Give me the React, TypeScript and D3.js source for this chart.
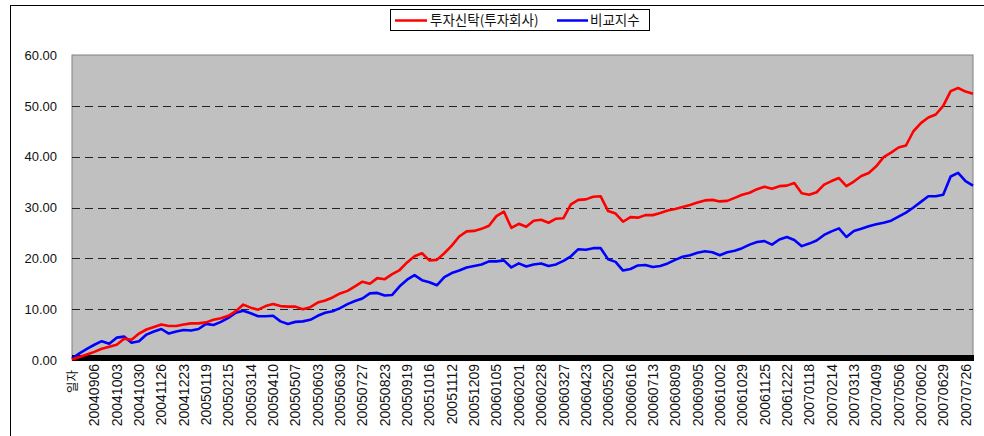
import React, { useEffect, useRef } from "react";
import * as d3 from "d3";

// category labels, one every 27 days (first one is the sheet header)
const dateLabels: string[] = [
    "일자", "20040906", "20041003", "20041030", "20041126", "20041223", "20050119",
    "20050215", "20050314", "20050410", "20050507", "20050603", "20050630", "20050727",
    "20050823", "20050919", "20051016", "20051112", "20051209", "20060105", "20060201",
    "20060228", "20060327", "20060423", "20060520", "20060616", "20060713", "20060809",
    "20060905", "20061002", "20061029", "20061125", "20061222", "20070118", "20070214",
    "20070313", "20070409", "20070506", "20070602", "20070629", "20070726"
];

// values read every 9 days
const fundValues: number[] = [
    0.1, 0.6, 1.1, 1.6, 2.2, 2.6, 3.0, 4.2, 4.0, 5.2, 6.0, 6.5, 7.0, 6.7, 6.7, 7.0,
    7.2, 7.2, 7.4, 7.9, 8.2, 8.7, 9.6, 10.9, 10.3, 9.9, 10.6, 11.0, 10.6, 10.5, 10.5, 10.0,
    10.4, 11.3, 11.7, 12.3, 13.1, 13.6, 14.5, 15.4, 15.0, 16.1, 15.9, 16.9, 17.7, 19.2,
    20.4, 21.0, 19.6, 19.7, 21.0, 22.5, 24.3, 25.3, 25.4, 25.8, 26.4, 28.3, 29.2, 26.0,
    26.8, 26.2, 27.4, 27.6, 27.0, 27.8, 27.9, 30.6, 31.5, 31.6, 32.1, 32.2, 29.3, 28.8,
    27.2, 28.1, 28.0, 28.5, 28.5, 28.9, 29.4, 29.7, 30.1, 30.5, 31.0, 31.4, 31.5, 31.2,
    31.3, 31.9, 32.5, 32.9, 33.6, 34.1, 33.7, 34.2, 34.3, 34.8, 32.8, 32.5, 33.0, 34.5,
    35.2, 35.8, 34.2, 35.1, 36.2, 36.8, 38.1, 39.9, 40.8, 41.8, 42.2, 45.0, 46.6, 47.7,
    48.3, 50.0, 52.9, 53.5, 52.8, 52.4
];

const indexValues: number[] = [
    0.3, 1.3, 2.2, 3.0, 3.7, 3.2, 4.4, 4.6, 3.4, 3.7, 5.0, 5.6, 6.1, 5.2, 5.6, 5.9,
    5.8, 6.1, 7.1, 6.9, 7.5, 8.3, 9.3, 9.7, 9.2, 8.6, 8.6, 8.7, 7.6, 7.1, 7.5, 7.6,
    7.9, 8.7, 9.3, 9.6, 10.2, 11.0, 11.6, 12.1, 13.1, 13.2, 12.7, 12.8, 14.5, 15.8,
    16.7, 15.7, 15.3, 14.7, 16.3, 17.1, 17.6, 18.2, 18.5, 18.8, 19.4, 19.4, 19.6, 18.2,
    19.0, 18.4, 18.8, 19.0, 18.5, 18.8, 19.5, 20.4, 21.8, 21.7, 22.0, 22.0, 19.8, 19.3,
    17.6, 17.9, 18.6, 18.7, 18.3, 18.5, 19.0, 19.7, 20.3, 20.6, 21.1, 21.4, 21.2, 20.6,
    21.2, 21.5, 22.0, 22.7, 23.2, 23.4, 22.7, 23.7, 24.2, 23.6, 22.4, 22.9, 23.5, 24.6,
    25.3, 25.9, 24.2, 25.4, 25.8, 26.3, 26.7, 27.0, 27.4, 28.2, 29.0, 30.0, 31.1, 32.2,
    32.2, 32.5, 36.1, 36.8, 35.2, 34.3
];

const yTicks: number[] = [0, 10, 20, 30, 40, 50, 60];

const seriesNames: string[] = ["투자신탁(투자회사)", "비교지수"];
const seriesColors: string[] = ["#ff0000", "#0000ff"];

const SAMPLE_STEP = 9;
const LABEL_STEP = 27;

const App: React.FC = () => {
    const svgRef = useRef<SVGSVGElement | null>(null);

    useEffect(() => {
        if (!svgRef.current) return;
        const svg = d3.select(svgRef.current);
        svg.selectAll("*").remove();

        const width = 984;
        const height = 436;
        const plot = { left: 72, right: 973, top: 55, bottom: 360 };
        const lastCat = (fundValues.length - 1) * SAMPLE_STEP;
        const latin = "'Liberation Sans', Arial, sans-serif";
        const hangul = "'Noto Sans CJK KR', 'Liberation Sans', sans-serif";

        const x = d3.scaleLinear().domain([0, lastCat]).range([plot.left, plot.right]);
        const y = d3.scaleLinear().domain([0, 60]).range([plot.bottom, plot.top]);

        svg.attr("width", width).attr("height", height);

        // chart frame
        svg.append("rect")
            .attr("x", 10.5).attr("y", 5.5)
            .attr("width", 1100).attr("height", 600)
            .attr("fill", "#fff").attr("stroke", "#000");

        // plot area
        svg.append("rect")
            .attr("x", plot.left).attr("y", plot.top)
            .attr("width", plot.right - plot.left).attr("height", plot.bottom - plot.top)
            .attr("fill", "#c0c0c0").attr("stroke", "#808080");

        // grid
        svg.append("g")
            .selectAll("line")
            .data(yTicks.filter((t) => t > 0 && t < 60))
            .join("line")
            .attr("x1", plot.left).attr("x2", plot.right)
            .attr("y1", (d) => Math.round(y(d)) + 0.5).attr("y2", (d) => Math.round(y(d)) + 0.5)
            .attr("stroke", "#222").attr("stroke-dasharray", "8,5");

        // y labels
        svg.append("g")
            .selectAll("text")
            .data(yTicks)
            .join("text")
            .attr("x", 57).attr("y", (d) => y(d))
            .attr("dy", "0.36em")
            .attr("text-anchor", "end")
            .style("font-family", latin).attr("font-size", "13px").attr("fill", "#111")
            .text((d) => d3.format(".2f")(d));

        // category tick band
        svg.append("g")
            .attr("shape-rendering", "crispEdges")
            .selectAll("line")
            .data(d3.range(0, lastCat + 1))
            .join("line")
            .attr("x1", (d) => x(d)).attr("x2", (d) => x(d))
            .attr("y1", plot.bottom - 5).attr("y2", plot.bottom + 1)
            .attr("stroke", "#000").attr("stroke-width", 1);

        // x labels
        svg.append("g")
            .selectAll("text")
            .data(dateLabels)
            .join("text")
            .attr("transform", (d, i) => `translate(${x(i * LABEL_STEP)},${plot.bottom + (i === 0 ? 10 : 4)}) rotate(-90)`)
            .attr("dy", "0.36em")
            .attr("text-anchor", "end")
            .style("font-family", (d, i) => (i === 0 ? hangul : latin))
            .attr("font-size", (d, i) => (i === 0 ? "12.5px" : "14px"))
            .attr("fill", "#111")
            .text((d) => d);

        // series
        const line = d3.line<number>()
            .x((d, i) => x(i * SAMPLE_STEP))
            .y((d) => y(d))
            .curve(d3.curveLinear);

        [indexValues, fundValues].forEach((vals, k) => {
            svg.append("path")
                .datum(vals)
                .attr("d", line)
                .attr("fill", "none")
                .attr("stroke", k === 0 ? seriesColors[1] : seriesColors[0])
                .attr("stroke-width", 2.6)
                .attr("stroke-linejoin", "round");
        });

        // legend
        const lg = svg.append("g");
        lg.append("rect")
            .attr("x", 390.5).attr("y", 9.5)
            .attr("width", 259).attr("height", 21)
            .attr("fill", "#fff").attr("stroke", "#000");
        const items = [
            { x0: 395, x1: 427, tx: 430 },
            { x0: 557, x1: 588, tx: 590 }
        ];
        items.forEach((it, i) => {
            lg.append("line")
                .attr("x1", it.x0).attr("x2", it.x1)
                .attr("y1", 20.5).attr("y2", 20.5)
                .attr("stroke", seriesColors[i]).attr("stroke-width", 2.5);
            lg.append("text")
                .attr("x", it.tx).attr("y", 20.5).attr("dy", "0.36em")
                .style("font-family", hangul).attr("font-size", "13.5px").attr("fill", "#111")
                .text(seriesNames[i]);
        });
    }, []);

    return (
        <svg ref={svgRef} style={{ position: "absolute", left: 0, top: 0, background: "#fff" }}></svg>
    );
};

export default App;
